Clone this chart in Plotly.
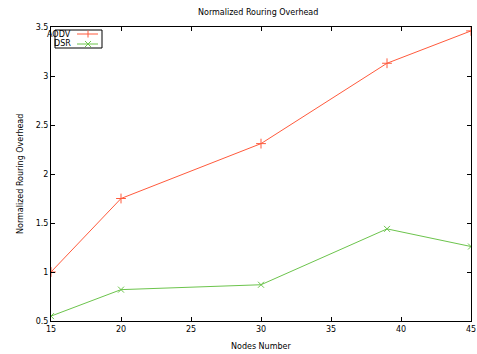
import plotly.graph_objects as go

nodes = [15, 20, 30, 39, 45]
aodv = [1.00, 1.75, 2.31, 3.13, 3.46]
dsr = [0.55, 0.82, 0.87, 1.44, 1.26]
series_names = ["AODV", "DSR"]

x_ticks = [15, 20, 25, 30, 35, 40, 45]
y_ticks = [0.5, 1, 1.5, 2, 2.5, 3, 3.5]

RED = "#ff5a3c"
GREEN = "#6cc44c"
font = dict(family="DejaVu Sans, sans-serif", size=8, color="#000000")

W, H = 477, 354
L, R, T, B = 51, 6, 27, 33
pw, ph = W - L - R, H - T - B


def px(xp):
    return (xp - L) / pw


def py(yp):
    return 1 - (yp - T) / ph


fig = go.Figure()
fig.add_trace(go.Scatter(x=nodes, y=aodv, mode="lines+markers", name=series_names[0],
                         line=dict(color=RED, width=1),
                         marker=dict(symbol="cross-thin", size=7, line=dict(color=RED, width=1))))
fig.add_trace(go.Scatter(x=nodes, y=dsr, mode="lines+markers", name=series_names[1],
                         line=dict(color=GREEN, width=1),
                         marker=dict(symbol="x-thin", size=6, line=dict(color=GREEN, width=1))))

axis_common = dict(showgrid=False, zeroline=False, showline=True, linecolor="#000000", linewidth=1,
                   mirror="ticks", ticks="inside", ticklen=4, tickcolor="#000000",
                   tickfont=font)

# manual gnuplot-style legend (text, then sample)
shapes = [dict(type="rect", xref="paper", yref="paper", x0=px(55), x1=px(102), y0=py(48), y1=py(30),
               line=dict(color="#000000", width=1), fillcolor="white", layer="above")]
annotations = []
rows = [(34, RED, "cross"), (44, GREEN, "x")]
for name, (yy, col, mk) in zip(series_names, rows):
    annotations.append(dict(text=name, xref="paper", yref="paper", x=px(73), y=py(yy),
                            xanchor="right", yanchor="middle", showarrow=False, font=font))
    shapes.append(dict(type="line", xref="paper", yref="paper", x0=px(77), x1=px(98), y0=py(yy), y1=py(yy),
                       line=dict(color=col, width=1), layer="above"))
    if mk == "cross":
        shapes.append(dict(type="line", xref="paper", yref="paper", x0=px(88), x1=px(88),
                           y0=py(yy - 3.5), y1=py(yy + 3.5), line=dict(color=col, width=1), layer="above"))
    else:
        shapes.append(dict(type="line", xref="paper", yref="paper", x0=px(85), x1=px(91),
                           y0=py(yy - 3), y1=py(yy + 3), line=dict(color=col, width=1), layer="above"))
        shapes.append(dict(type="line", xref="paper", yref="paper", x0=px(85), x1=px(91),
                           y0=py(yy + 3), y1=py(yy - 3), line=dict(color=col, width=1), layer="above"))

annotations += [
    dict(text="Normalized Rouring Overhead", xref="paper", yref="paper", x=px(258), y=py(13),
         xanchor="center", yanchor="middle", showarrow=False, font=font),
    dict(text="Nodes Number", xref="paper", yref="paper", x=px(261), y=py(346),
         xanchor="center", yanchor="middle", showarrow=False, font=font),
    dict(text="Normalized Rouring Overhead", xref="paper", yref="paper", x=px(20), y=py(174),
         xanchor="center", yanchor="middle", showarrow=False, font=font, textangle=-90),
]

fig.update_layout(
    width=W, height=H,
    margin=dict(l=L, r=R, t=T, b=B, autoexpand=False),
    plot_bgcolor="white", paper_bgcolor="white",
    font=font,
    hovermode=False,
    xaxis=dict(range=[15, 45], tickvals=x_ticks, ticktext=[str(v) for v in x_ticks], **axis_common),
    yaxis=dict(range=[0.5, 3.5], tickvals=y_ticks, ticktext=[f"{v:g}" for v in y_ticks], **axis_common),
    showlegend=False,
    shapes=shapes,
    annotations=annotations,
)

fig.write_html("out.html", config=dict(displayModeBar=False, staticPlot=True),
               post_script="document.body.style.margin='0';document.body.style.overflow='hidden';")
